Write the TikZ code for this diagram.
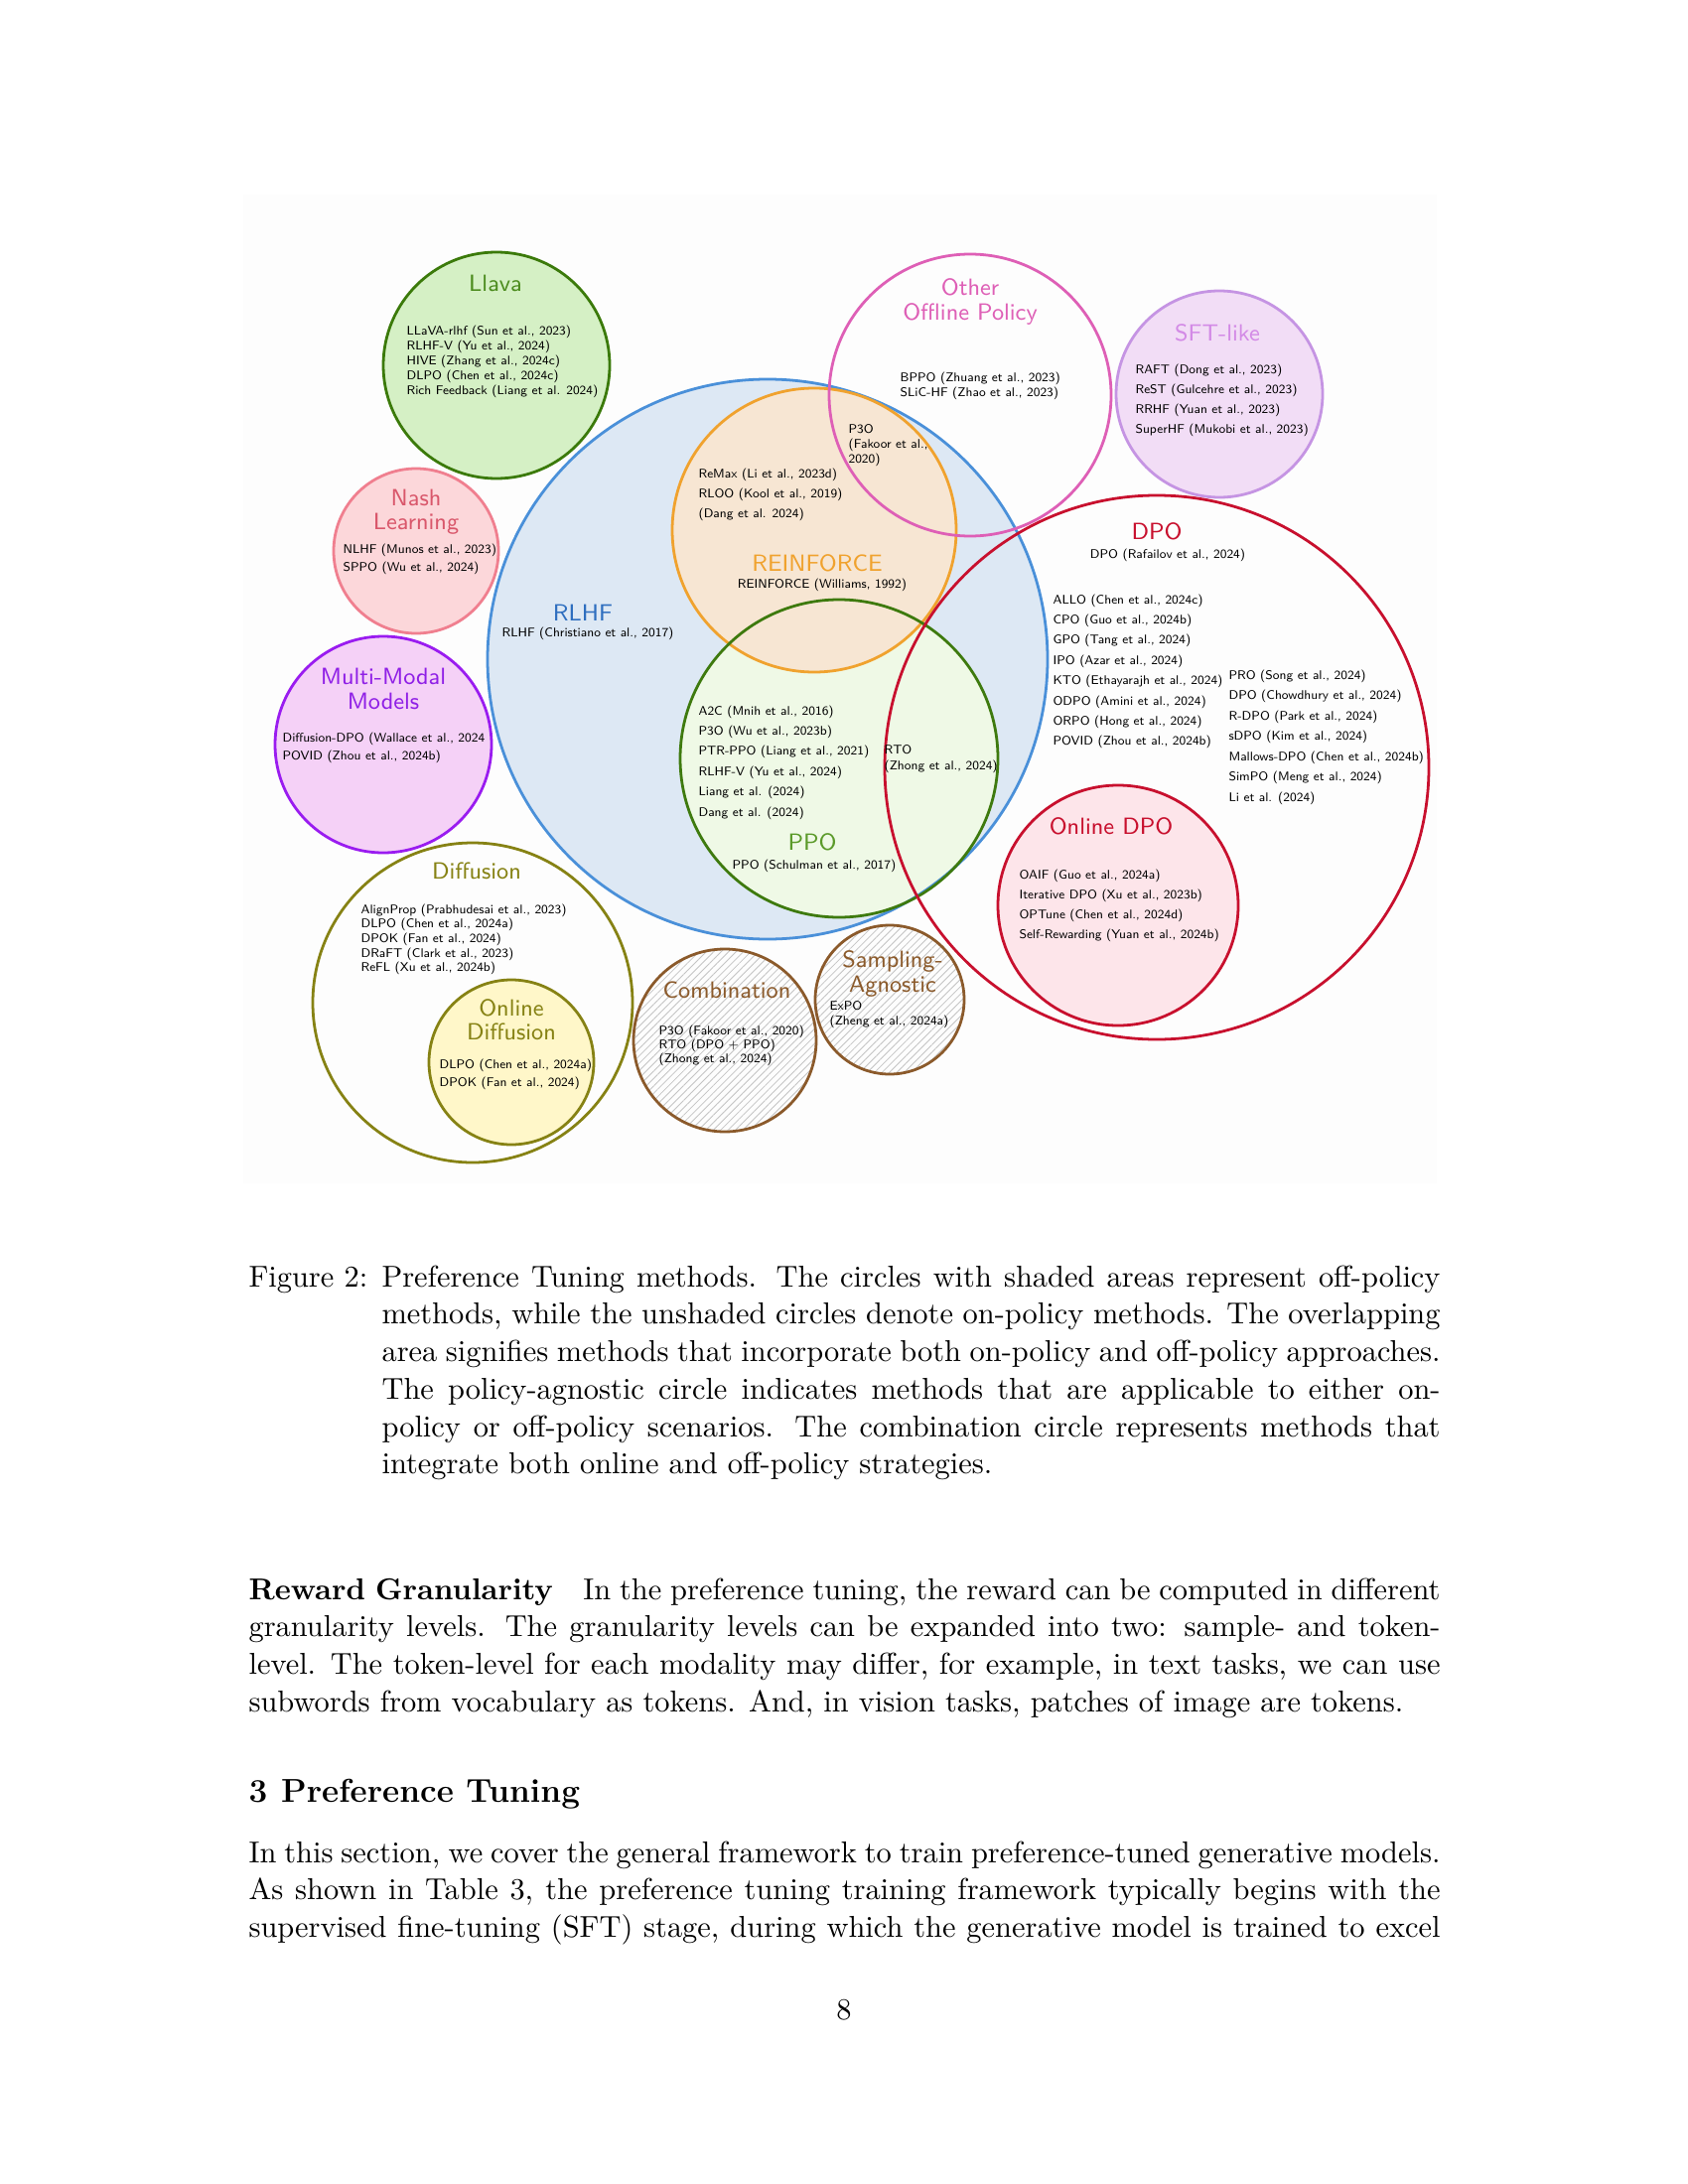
\documentclass[tikz,border=0pt]{standalone}
\usepackage{fontspec}
\usetikzlibrary{patterns.meta}
\definecolor{figbg}{HTML}{FDFDFD}
\definecolor{llavaS}{HTML}{3B7A0A}\definecolor{llavaF}{HTML}{D5F0C5}\definecolor{llavaT}{HTML}{4C8C1E}
\definecolor{nashS}{HTML}{F07F8F}\definecolor{nashF}{HTML}{FCD7DA}\definecolor{nashT}{HTML}{D9576B}
\definecolor{mmS}{HTML}{9A1CF0}\definecolor{mmF}{HTML}{F5D1F7}\definecolor{mmT}{HTML}{8F1FE6}
\definecolor{difS}{HTML}{868214}\definecolor{odifF}{HTML}{FFF7C9}
\definecolor{rlhfS}{HTML}{4A90D9}\definecolor{rlhfF}{HTML}{DDE8F4}\definecolor{rlhfT}{HTML}{2E6EBF}
\definecolor{reinS}{HTML}{F0A22E}\definecolor{reinF}{HTML}{F7E6D3}
\definecolor{ppoS}{HTML}{3E7A0E}\definecolor{ppoF}{HTML}{EFF9E6}\definecolor{ppoT}{HTML}{5B9A2A}
\definecolor{othS}{HTML}{DE5FB6}
\definecolor{sftS}{HTML}{C594E3}\definecolor{sftF}{HTML}{F2DDF6}\definecolor{sftT}{HTML}{D38AE6}
\definecolor{dpoS}{HTML}{C8102E}\definecolor{odpoF}{HTML}{FDE5EA}
\definecolor{combS}{HTML}{8B5A2B}\definecolor{hatch}{HTML}{C4C4C4}
\begin{document}
\begin{tikzpicture}[x=0.36pt,y=0.36pt,
  ttl/.style={font=\sffamily\fontsize{8.5}{8.7}\selectfont, align=center, inner sep=0},
  itm/.style={font=\sffamily\fontsize{4.55}{#1}\selectfont, align=left, anchor=north west, inner sep=0},
  itm/.default=5.4,
  one/.style={font=\sffamily\fontsize{4.55}{5.4}\selectfont, inner sep=0},
  ring/.style={line width=1pt},
  hatched/.style={pattern={Lines[angle=45,distance=1.9pt,line width=0.3pt]}, pattern color=hatch},
  body/.style={inner sep=0, anchor=base west, font=\fontsize{10.95}{13.6}\selectfont}]
\useasboundingbox (0,0) rectangle (1700,-2200);
\fill[white] (0,0) rectangle (1700,-2200);
\fill[figbg] (245,-196) rectangle (1447,-1192);
% fills
\fill[rlhfF] (773,-664) circle[radius=282];
\fill[ppoF] (845,-764) circle[radius=160];
\fill[reinF] (820,-534) circle[radius=143];
\fill[sftF] (1228,-397) circle[radius=104];
\fill[odpoF] (1126,-912) circle[radius=121];
\fill[llavaF] (500,-368) circle[radius=114];
\fill[nashF] (419,-555) circle[radius=83];
\fill[mmF] (386,-750) circle[radius=109];
\fill[odifF] (515,-1070) circle[radius=83];
\fill[hatched] (730,-1048) circle[radius=92];
\fill[hatched] (896,-1007) circle[radius=75];
% strokes
\draw[ring, rlhfS] (773,-664) circle[radius=282];
\draw[ring, reinS] (820,-534) circle[radius=143];
\draw[ring, ppoS] (845,-764) circle[radius=160];
\draw[ring, othS] (977,-398) circle[radius=142];
\draw[ring, sftS] (1228,-397) circle[radius=104];
\draw[ring, dpoS] (1165,-773) circle[radius=274];
\draw[ring, dpoS] (1126,-912) circle[radius=121];
\draw[ring, llavaS] (500,-368) circle[radius=114];
\draw[ring, nashS] (419,-555) circle[radius=83];
\draw[ring, mmS] (386,-750) circle[radius=109];
\draw[ring, difS] (476,-1010) circle[radius=161];
\draw[ring, difS] (515,-1070) circle[radius=83];
\draw[ring, combS] (730,-1048) circle[radius=92];
\draw[ring, combS] (896,-1007) circle[radius=75];
% titles
\node[ttl, text=llavaT] (tLlava) at (499,-285) {Llava};
\node[ttl, text=nashT] (tNash) at (419,-516) {Nash\\Learning};
\node[ttl, text=mmT] (tMM) at (386,-694) {Multi-Modal\\Models};
\node[ttl, text=rlhfT] (tRLHF) at (587,-617) {RLHF};
\node[ttl, text=reinS] (tREIN) at (823,-567) {REINFORCE};
\node[ttl, text=ppoT] (tPPO) at (818,-848) {PPO};
\node[ttl, text=othS] (tOth) at (977,-304) {Other\\Offline Policy};
\node[ttl, text=sftT] (tSFT) at (1226,-335) {SFT-like};
\node[ttl, text=dpoS] (tDPO) at (1165,-535) {DPO};
\node[ttl, text=dpoS] (tODPO) at (1119,-832) {Online DPO};
\node[ttl, text=difS] (tDif) at (480,-877) {Diffusion};
\node[ttl, text=difS] (tODif) at (515,-1027) {Online\\Diffusion};
\node[ttl, text=combS] (tComb) at (732,-997) {Combination};
\node[ttl, text=combS] (tSamp) at (899,-981) {Sampling-\\Agnostic};
% single items
\node[one] (iRLHF) at (592,-638) {RLHF (Christiano et al., 2017)};
\node[one] (iREIN) at (828,-589) {REINFORCE (Williams, 1992)};
\node[one] (iPPO) at (820,-872) {PPO (Schulman et al., 2017)};
\node[one] (iDPO) at (1176,-559) {DPO (Rafailov et al., 2024)};
% lists
\node[itm=5.4] (lLlava) at (409,-327) {LLaVA-rlhf (Sun et al., 2023)\\RLHF-V (Yu et al., 2024)\\HIVE (Zhang et al., 2024c)\\DLPO (Chen et al., 2024c)\\Rich Feedback (Liang et al. 2024)};
\node[itm=6.5] (lNash) at (345,-547) {NLHF (Munos et al., 2023)\\SPPO (Wu et al., 2024)};
\node[itm=5.4] (lOth) at (906,-374) {BPPO (Zhuang et al., 2023)\\SLiC-HF (Zhao et al., 2023)};
\node[itm=5.4] (lP3O) at (854,-427) {P3O\\(Fakoor et al.,\\2020)};
\node[itm=7.2] (lSFT) at (1143,-366) {RAFT (Dong et al., 2023)\\ReST (Gulcehre et al., 2023)\\RRHF (Yuan et al., 2023)\\SuperHF (Mukobi et al., 2023)};
\node[itm=7.2] (lREIN) at (703,-471) {ReMax (Li et al., 2023d)\\RLOO (Kool et al., 2019)\\(Dang et al. 2024)};
\node[itm=7.35] (lPPO) at (703,-710) {A2C (Mnih et al., 2016)\\P3O (Wu et al., 2023b)\\PTR-PPO (Liang et al., 2021)\\RLHF-V (Yu et al., 2024)\\Liang et al. (2024)\\Dang et al. (2024)};
\node[itm=5.8] (lRTO) at (890,-750) {RTO\\(Zhong et al., 2024)};
\node[itm=7.35] (lDPOa) at (1060,-598) {ALLO (Chen et al., 2024c)\\CPO (Guo et al., 2024b)\\GPO (Tang et al., 2024)\\IPO (Azar et al., 2024)\\KTO (Ethayarajh et al., 2024)\\ODPO (Amini et al., 2024)\\ORPO (Hong et al., 2024)\\POVID (Zhou et al., 2024b)};
\node[itm=7.4] (lDPOb) at (1237,-674) {PRO (Song et al., 2024)\\DPO (Chowdhury et al., 2024)\\R-DPO (Park et al., 2024)\\sDPO (Kim et al., 2024)\\Mallows-DPO (Chen et al., 2024b)\\SimPO (Meng et al., 2024)\\Li et al. (2024)};
\node[itm=7.3] (lODPO) at (1026,-875) {OAIF (Guo et al., 2024a)\\Iterative DPO (Xu et al., 2023b)\\OPTune (Chen et al., 2024d)\\Self-Rewarding (Yuan et al., 2024b)};
\node[itm=6.8] (lMM) at (284,-737) {Diffusion-DPO (Wallace et al., 2024\\POVID (Zhou et al., 2024b)};
\node[itm=5.3] (lDif) at (363,-910) {AlignProp (Prabhudesai et al., 2023)\\DLPO (Chen et al., 2024a)\\DPOK (Fan et al., 2024)\\DRaFT (Clark et al., 2023)\\ReFL (Xu et al., 2024b)};
\node[itm=6.5] (lODif) at (442,-1066) {DLPO (Chen et al., 2024a)\\DPOK (Fan et al., 2024)};
\node[itm=5.2] (lComb) at (663,-1032) {P3O (Fakoor et al., 2020)\\RTO (DPO + PPO)\\(Zhong et al., 2024)};
\node[itm=5.4] (lSamp) at (835,-1008) {ExPO\\(Zheng et al., 2024a)};
% caption and body
\node[body] (figlab) at (250,-1296) {Figure 2:};
\node[body] (cap) at (384,-1296) {\begin{minipage}[t]{383.76pt}\fontsize{10.95}{13.6}\selectfont
Preference Tuning methods. The circles with shaded areas represent off-policy\linebreak
methods, while the unshaded circles denote on-policy methods. The overlapping\linebreak
area signifies methods that incorporate both on-policy and off-policy approaches.\linebreak
The policy-agnostic circle indicates methods that are applicable to either on-\linebreak
policy or off-policy scenarios. The combination circle represents methods that\linebreak
integrate both online and off-policy strategies.\end{minipage}};
\node[body] (para1) at (250,-1611) {\begin{minipage}[t]{432pt}\fontsize{10.95}{13.6}\selectfont
\textbf{Reward Granularity}\quad In the preference tuning, the reward can be computed in different\linebreak
granularity levels. The granularity levels can be expanded into two: sample- and token-\linebreak
level. The token-level for each modality may differ, for example, in text tasks, we can use\linebreak
subwords from vocabulary as tokens. And, in vision tasks, patches of image are tokens.\end{minipage}};
\node[inner sep=0, anchor=base west, font=\fontsize{12}{14}\selectfont\bfseries] (sec) at (250,-1815) {3\hspace{5pt}Preference Tuning};
\node[body] (para2) at (250,-1876) {\begin{minipage}[t]{432pt}\fontsize{10.95}{13.6}\selectfont\parfillskip=0pt
In this section, we cover the general framework to train preference-tuned generative models.\linebreak
As shown in Table 3, the preference tuning training framework typically begins with the\linebreak
supervised fine-tuning (SFT) stage, during which the generative model is trained to excel\par\end{minipage}};
\node[inner sep=0, anchor=base, font=\fontsize{10.95}{13.6}\selectfont] (pg) at (850,-2034) {8};
\end{tikzpicture}
\end{document}
